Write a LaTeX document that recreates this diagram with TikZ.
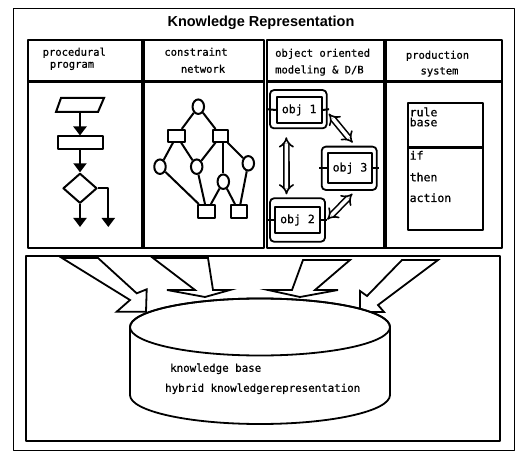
\documentclass[tikz,border=0pt]{standalone}
\usepackage{fontspec}
\usepackage{graphicx}
\usetikzlibrary{shapes.geometric,arrows.meta,calc}
\newfontfamily\monof[FakeBold=0.6]{DejaVu Sans Mono}
\newfontfamily\titlef{Liberation Sans}
\begin{document}
\begin{tikzpicture}[x=1bp,y=-1bp,line join=round,
  thk/.style={line width=2bp},
  txt/.style={font=\monof\fontsize{10.5bp}{12bp}\selectfont, inner sep=0pt, text height=7.5bp, text depth=2bp},
  txtL/.style={font=\monof\fontsize{11.5bp}{13bp}\selectfont, inner sep=0pt, text height=8bp, text depth=2bp},
  flow/.style={line width=2bp, -{Triangle[width=13bp,length=9bp]}},
  netc/.style={draw, line width=2bp, ellipse, minimum width=11.5bp, minimum height=14.5bp, inner sep=0pt},
  nets/.style={draw, line width=2bp, rectangle, inner sep=0pt},
  blk/.style={line width=1.8bp, fill=white, line join=miter},
  objout/.style={draw, line width=1.8bp, rounded corners=4bp, inner sep=0pt},
  objin/.style={draw, line width=1.8bp, inner sep=0pt, font=\monof\fontsize{11.5bp}{13bp}\selectfont},
  dbl/.style={double distance=3.5bp, line width=1.6bp, {Implies[scale=1.4]}-{Implies[scale=1.4]}}
]
\useasboundingbox (0,0) rectangle (519,461);
\fill[white] (0,0) rectangle (519,461);
% outer frame and title
\draw[line width=1bp] (13,9) rectangle (514,450);
\node[font=\titlef\bfseries\fontsize{14.5bp}{16bp}\selectfont, inner sep=0pt] (title) at (261,23) {Knowledge Representation};
% top groups
\draw[line width=2bp] (28,40) rectangle (264,248);
\draw[line width=3bp] (28,82) -- (264,82);
\draw[line width=3.5bp] (143,40) -- (143,248);
\draw[line width=2bp] (267,40) rectangle (502,248);
\draw[line width=3bp] (267,82) -- (502,82);
\draw[line width=3.5bp] (385,40) -- (385,248);
% headers
\node[txt] (h1a) at (74.3,53) {procedural};
\node[txt] (h1b) at (72,65) {program};
\node[txt] (h2a) at (196,53) {constraint};
\node[txt] (h2b) at (203,70) {network};
\node[txt, anchor=west] (h3a) at (275,54) {object oriented};
\node[txt, anchor=west] (h3b) at (275,70.7) {modeling \& D/B};
\node[txt] (h4a) at (437.5,56) {production};
\node[txt] (h4b) at (439.5,71.7) {system};
% procedural program flowchart
\draw[thk, line join=miter] (61,98) -- (104,98) -- (98,112) -- (56,112) -- cycle;
\coordinate (io) at (80,112);
\node[draw, line width=2bp, rectangle, minimum width=45bp, minimum height=13bp, inner sep=0pt] (proc) at (80,143) {};
\node[draw, line width=2bp, diamond, minimum width=34bp, minimum height=30bp, inner sep=0pt] (dec) at (80,188.3) {};
\coordinate (o1) at (80,227);
\coordinate (o2) at (108.3,227);
\draw[flow] (io) -- (proc.north);
\draw[flow] (proc.south) -- (dec.north);
\draw[flow] (dec.south) -- (o1);
\draw[flow] (dec.east) -| (o2);
% constraint network
\node[netc] (n0) at (198.3,106.7) {};
\node[nets, minimum width=16.7bp, minimum height=11.7bp] (s1) at (176.7,135.8) {};
\node[nets, minimum width=15bp, minimum height=11.7bp] (s2) at (220.8,135.8) {};
\node[netc] (c1) at (160,166.7) {};
\node[netc] (c2) at (196.7,166.7) {};
\node[netc] (c3) at (248.3,163.3) {};
\node[netc] (c4) at (223.3,181.7) {};
\node[nets, minimum width=16.7bp, minimum height=13.3bp] (b1) at (206.7,211.7) {};
\node[nets, minimum width=15.7bp, minimum height=13.3bp] (b2) at (238.9,211.7) {};
\draw[thk] (n0) -- (s1); \draw[thk] (n0) -- (s2);
\draw[thk] (s1) -- (c1); \draw[thk] (s1) -- (c2);
\draw[thk] (s2) -- (c2); \draw[thk] (c4.north |- s2.south) -- (c4.north);
\draw[thk] (s2) -- (c3);
\draw[thk] (c1) -- (b1); \draw[thk] (c2) -- (b1); \draw[thk] (c4) -- (b1);
\draw[thk] (c4) -- (b2); \draw[thk] (c3) -- (b2);
% objects
\node[objout, minimum width=56.7bp, minimum height=38.3bp] (o1out) at (298.3,109.2) {};
\node[objin, minimum width=45bp, minimum height=26.6bp] (ob1) at (299.2,110) {obj 1};
\node[objout, minimum width=55bp, minimum height=43.3bp] (o3out) at (349.2,168.3) {};
\node[objin, minimum width=43.4bp, minimum height=30bp] (ob3) at (350,168.3) {obj 3};
\node[objout, minimum width=55bp, minimum height=43.4bp] (o2out) at (297.5,220) {};
\node[objin, minimum width=45bp, minimum height=26.6bp] (ob2) at (297.5,220) {obj 2};
\foreach \a/\b in {o1out/ob1,o3out/ob3,o2out/ob2}{
  \draw[thk] ([xshift=-1.5bp]\a.west) -- (\b.west);
  \draw[thk] (\b.east) -- ([xshift=1.5bp]\a.east);
}
\draw[dbl, shorten <=8bp, shorten >=3bp] ([xshift=-12bp]o1out.south) -- ([xshift=-11bp]o2out.north);
\draw[dbl, shorten <=2bp, shorten >=4bp] ([yshift=-3bp]o1out.east) -- ([xshift=6bp]o3out.north);
\draw[dbl, shorten <=2bp, shorten >=4bp] ([yshift=-1bp]o2out.east) -- ([xshift=6bp]o3out.south);
% production system
\node[draw, line width=2bp, minimum width=74.4bp, minimum height=44bp, inner sep=0pt] (rb) at (445.5,124.7) {};
\node[draw, line width=2bp, minimum width=74.4bp, minimum height=83.3bp, inner sep=0pt] (act) at (445.5,188.3) {};
\draw[line width=3bp] (rb.south west) -- (rb.south east);
\node[txtL, anchor=west] (t1) at (409.5,113.3) {rule};
\node[txtL, anchor=west] (t2) at (409.5,123.3) {base};
\node[txtL, anchor=west] (t3) at (409.5,156.7) {if};
\node[txtL, anchor=west] (t4) at (409.5,178.3) {then};
\node[txtL, anchor=west] (t5) at (409.5,199) {action};
% lower box
\draw[line width=2bp] (26,256) rectangle (500,441);
% block arrows
\draw[blk] (62,258) -- (98,258) -- (136.7,293.3) -- (146.7,289.3) -- (146,311.7) -- (116.7,311.7) -- (130,300) -- cycle;
\draw[blk] (153,258) -- (208,258) -- (213,290) -- (230,290) -- (205,297) -- (167,290) -- (195,290) -- cycle;
\draw[blk] (303,260) -- (350,260) -- (315,290) -- (338,290) -- (300,297) -- (268,290) -- (292,290) -- cycle;
\draw[blk] (402,260) -- (438,260) -- (378,305) -- (384,312) -- (360,312) -- (360,291) -- (367,296) -- cycle;
% cylinder
\draw[line width=1.8bp, fill=white] (130,327) -- (130,395) .. controls (130,411) and (188.2,424) .. (260,424) .. controls (331.8,424) and (390,411) .. (390,395) -- (390,327) .. controls (390,311.3) and (331.8,298.5) .. (260,298.5) .. controls (188.2,298.5) and (130,311.3) .. cycle;
\draw[line width=1.8bp] (260,327) ellipse [x radius=130bp, y radius=28.5bp];
\node[txt, anchor=west, font=\monof\fontsize{10.8bp}{12bp}\selectfont] (kb1) at (170,369) {knowledge base};
\node[txt, anchor=west, font=\monof\fontsize{10.8bp}{12bp}\selectfont] (kb2) at (165,389) {hybrid knowledgerepresentation};
\end{tikzpicture}
\end{document}
